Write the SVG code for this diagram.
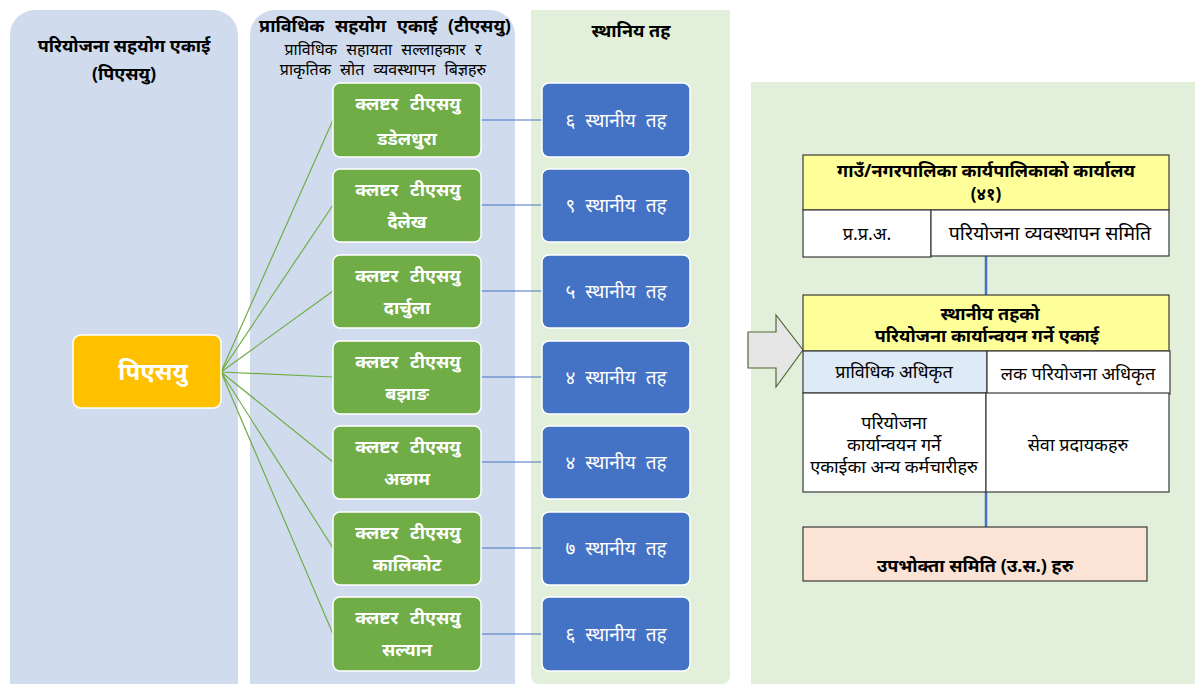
<svg xmlns="http://www.w3.org/2000/svg" width="1195" height="684" viewBox="0 0 1195 684">
<style>
text{font-family:"Noto Sans","Noto Sans Devanagari","Nirmala UI",sans-serif;text-anchor:middle}
.h{font-size:18px;font-weight:bold;fill:#000}
.s{font-size:18px;fill:#000}
.cl{fill:#70AD47;stroke:#fff;stroke-width:1.5}
.bl{fill:#4472C4;stroke:#fff;stroke-width:1.5}
.ct{font-size:18px;font-weight:bold;fill:#fff;word-spacing:7px}
.ct2{font-size:18px;font-weight:bold;fill:#fff}
.bt{font-size:19px;fill:#fff;word-spacing:5px}
.gl{stroke:#70AD47;stroke-width:1.2;fill:none}
.bln{stroke:#4472C4;stroke-width:1.2;fill:none}
.cell{stroke:#3a3a3a;stroke-width:1.2}
</style>
<rect width="1195" height="684" fill="#fff"/>
<g id="panels">
<path d="M10,684 V35 a25,25 0 0 1 25,-25 H213 a25,25 0 0 1 25,25 V684 Z" fill="#D0DCEE"/>
<path d="M250,684 V35 a25,25 0 0 1 25,-25 H490 a25,25 0 0 1 25,25 V684 Z" fill="#D0DCEE"/>
<path d="M531,676 V10 H730 V676 a8,8 0 0 1 -8,8 H539 a8,8 0 0 1 -8,-8 Z" fill="#E2EFDA"/>
<rect x="751" y="82" width="444" height="602" fill="#E2EFDA"/>
</g>
<g id="headers">
<text class="h" x="124" y="52">परियोजना सहयोग एकाई</text>
<text class="h" x="124" y="80">(पिएसयु)</text>
<text class="h" x="385" y="32" style="word-spacing:6px">प्राविधिक सहयोग एकाई (टीएसयु)</text>
<text class="s" x="383" y="55" style="font-size:16px;word-spacing:5px">प्राविधिक सहायता सल्लाहकार र</text>
<text class="s" x="383" y="75" style="font-size:16px;word-spacing:5px">प्राकृतिक स्रोत व्यवस्थापन बिज्ञहरु</text>
<text class="h" x="631" y="37">स्थानिय तह</text>
</g>
<g id="connectors">
<path class="gl" d="M221,372 L333,120 M221,372 L333,205 M221,372 L333,291 M221,372 L333,377 M221,372 L333,462 M221,372 L333,548 M221,372 L333,634"/>
<path class="bln" d="M481,120 H542 M481,205 H542 M481,291 H542 M481,377 H542 M481,462 H542 M481,548 H542 M481,634 H542"/>
<path d="M986,256 V295 M986,492 V528" stroke="#4472C4" stroke-width="2.5" fill="none"/>
</g>
<g id="psu">
<rect x="73" y="335" width="148" height="73" rx="8" fill="#FFC000" stroke="#fff" stroke-width="1.5"/>
<text x="153" y="380" style="font-size:24px;font-weight:bold;fill:#fff">पिएसयु</text>
</g>
<g id="c1"><rect class="cl" x="333" y="83" width="148" height="74" rx="7"/><text class="ct" x="408" y="110">क्लष्टर टीएसयु</text><text class="ct2" x="407" y="145">डडेलधुरा</text></g>
<g id="c2"><rect class="cl" x="333" y="169" width="148" height="73" rx="7"/><text class="ct" x="408" y="196">क्लष्टर टीएसयु</text><text class="ct2" x="407" y="228">दैलेख</text></g>
<g id="c3"><rect class="cl" x="333" y="255" width="148" height="73" rx="7"/><text class="ct" x="408" y="282">क्लष्टर टीएसयु</text><text class="ct2" x="407" y="314">दार्चुला</text></g>
<g id="c4"><rect class="cl" x="333" y="341" width="148" height="73" rx="7"/><text class="ct" x="408" y="368">क्लष्टर टीएसयु</text><text class="ct2" x="407" y="400">बझाङ</text></g>
<g id="c5"><rect class="cl" x="333" y="426" width="148" height="73" rx="7"/><text class="ct" x="408" y="453">क्लष्टर टीएसयु</text><text class="ct2" x="407" y="485">अछाम</text></g>
<g id="c6"><rect class="cl" x="333" y="512" width="148" height="73" rx="7"/><text class="ct" x="408" y="539">क्लष्टर टीएसयु</text><text class="ct2" x="407" y="571">कालिकोट</text></g>
<g id="c7"><rect class="cl" x="333" y="597" width="148" height="74" rx="7"/><text class="ct" x="408" y="624">क्लष्टर टीएसयु</text><text class="ct2" x="407" y="656">सल्यान</text></g>
<g id="b1"><rect class="bl" x="542" y="83" width="148" height="74" rx="7"/><text class="bt" x="616" y="127">६ स्थानीय तह</text></g>
<g id="b2"><rect class="bl" x="542" y="169" width="148" height="73" rx="7"/><text class="bt" x="616" y="212">९ स्थानीय तह</text></g>
<g id="b3"><rect class="bl" x="542" y="255" width="148" height="73" rx="7"/><text class="bt" x="616" y="298">५ स्थानीय तह</text></g>
<g id="b4"><rect class="bl" x="542" y="341" width="148" height="73" rx="7"/><text class="bt" x="616" y="384">४ स्थानीय तह</text></g>
<g id="b5"><rect class="bl" x="542" y="426" width="148" height="73" rx="7"/><text class="bt" x="616" y="469">४ स्थानीय तह</text></g>
<g id="b6"><rect class="bl" x="542" y="512" width="148" height="73" rx="7"/><text class="bt" x="616" y="555">७ स्थानीय तह</text></g>
<g id="b7"><rect class="bl" x="542" y="597" width="148" height="74" rx="7"/><text class="bt" x="616" y="641">६ स्थानीय तह</text></g>
<g id="arrow">
<path d="M748,332 H776 V315 L803,350 L776,387 V368 H748 Z" fill="#E7E6E6" stroke="#4E6B30" stroke-width="1.2"/>
</g>
<g id="office">
<rect class="cell" x="803" y="155" width="366" height="55" fill="#FFFF99"/>
<text class="h" x="986" y="177">गाउँ/नगरपालिका कार्यपालिकाको कार्यालय</text>
<text class="h" x="986" y="200" style="font-size:17px">(४१)</text>
<rect class="cell" x="803" y="210" width="128" height="47" fill="#fff"/>
<text class="s" x="867" y="240">प्र.प्र.अ.</text>
<rect class="cell" x="931" y="210" width="238" height="46" fill="#fff"/>
<text class="s" x="1050" y="240" style="font-size:19.5px">परियोजना व्यवस्थापन समिति</text>
</g>
<g id="piu">
<rect class="cell" x="803" y="295" width="366" height="56" fill="#FFFF99"/>
<text class="h" x="990" y="320">स्थानीय तहको</text>
<text class="h" x="987" y="342">परियोजना कार्यान्वयन गर्ने एकाई</text>
<rect class="cell" x="803" y="351" width="184" height="42" fill="#DEEAF6"/>
<text class="s" x="894" y="378">प्राविधिक अधिकृत</text>
<rect class="cell" x="987" y="351" width="183" height="43" fill="#fff"/>
<text class="s" x="1078" y="380">लक परियोजना अधिकृत</text>
<rect class="cell" x="803" y="393" width="183" height="99" fill="#fff"/>
<text class="s" x="894" y="429">परियोजना</text>
<text class="s" x="894" y="451">कार्यान्वयन गर्ने</text>
<text class="s" x="894" y="473">एकाईका अन्य कर्मचारीहरु</text>
<rect class="cell" x="986" y="393" width="183" height="99" fill="#fff"/>
<text class="s" x="1078" y="451">सेवा प्रदायकहरु</text>
</g>
<g id="us">
<rect class="cell" x="803" y="527" width="344" height="54" fill="#FBE4D5"/>
<text class="h" x="975" y="572">उपभोक्ता समिति (उ.स.) हरु</text>
</g>
</svg>
